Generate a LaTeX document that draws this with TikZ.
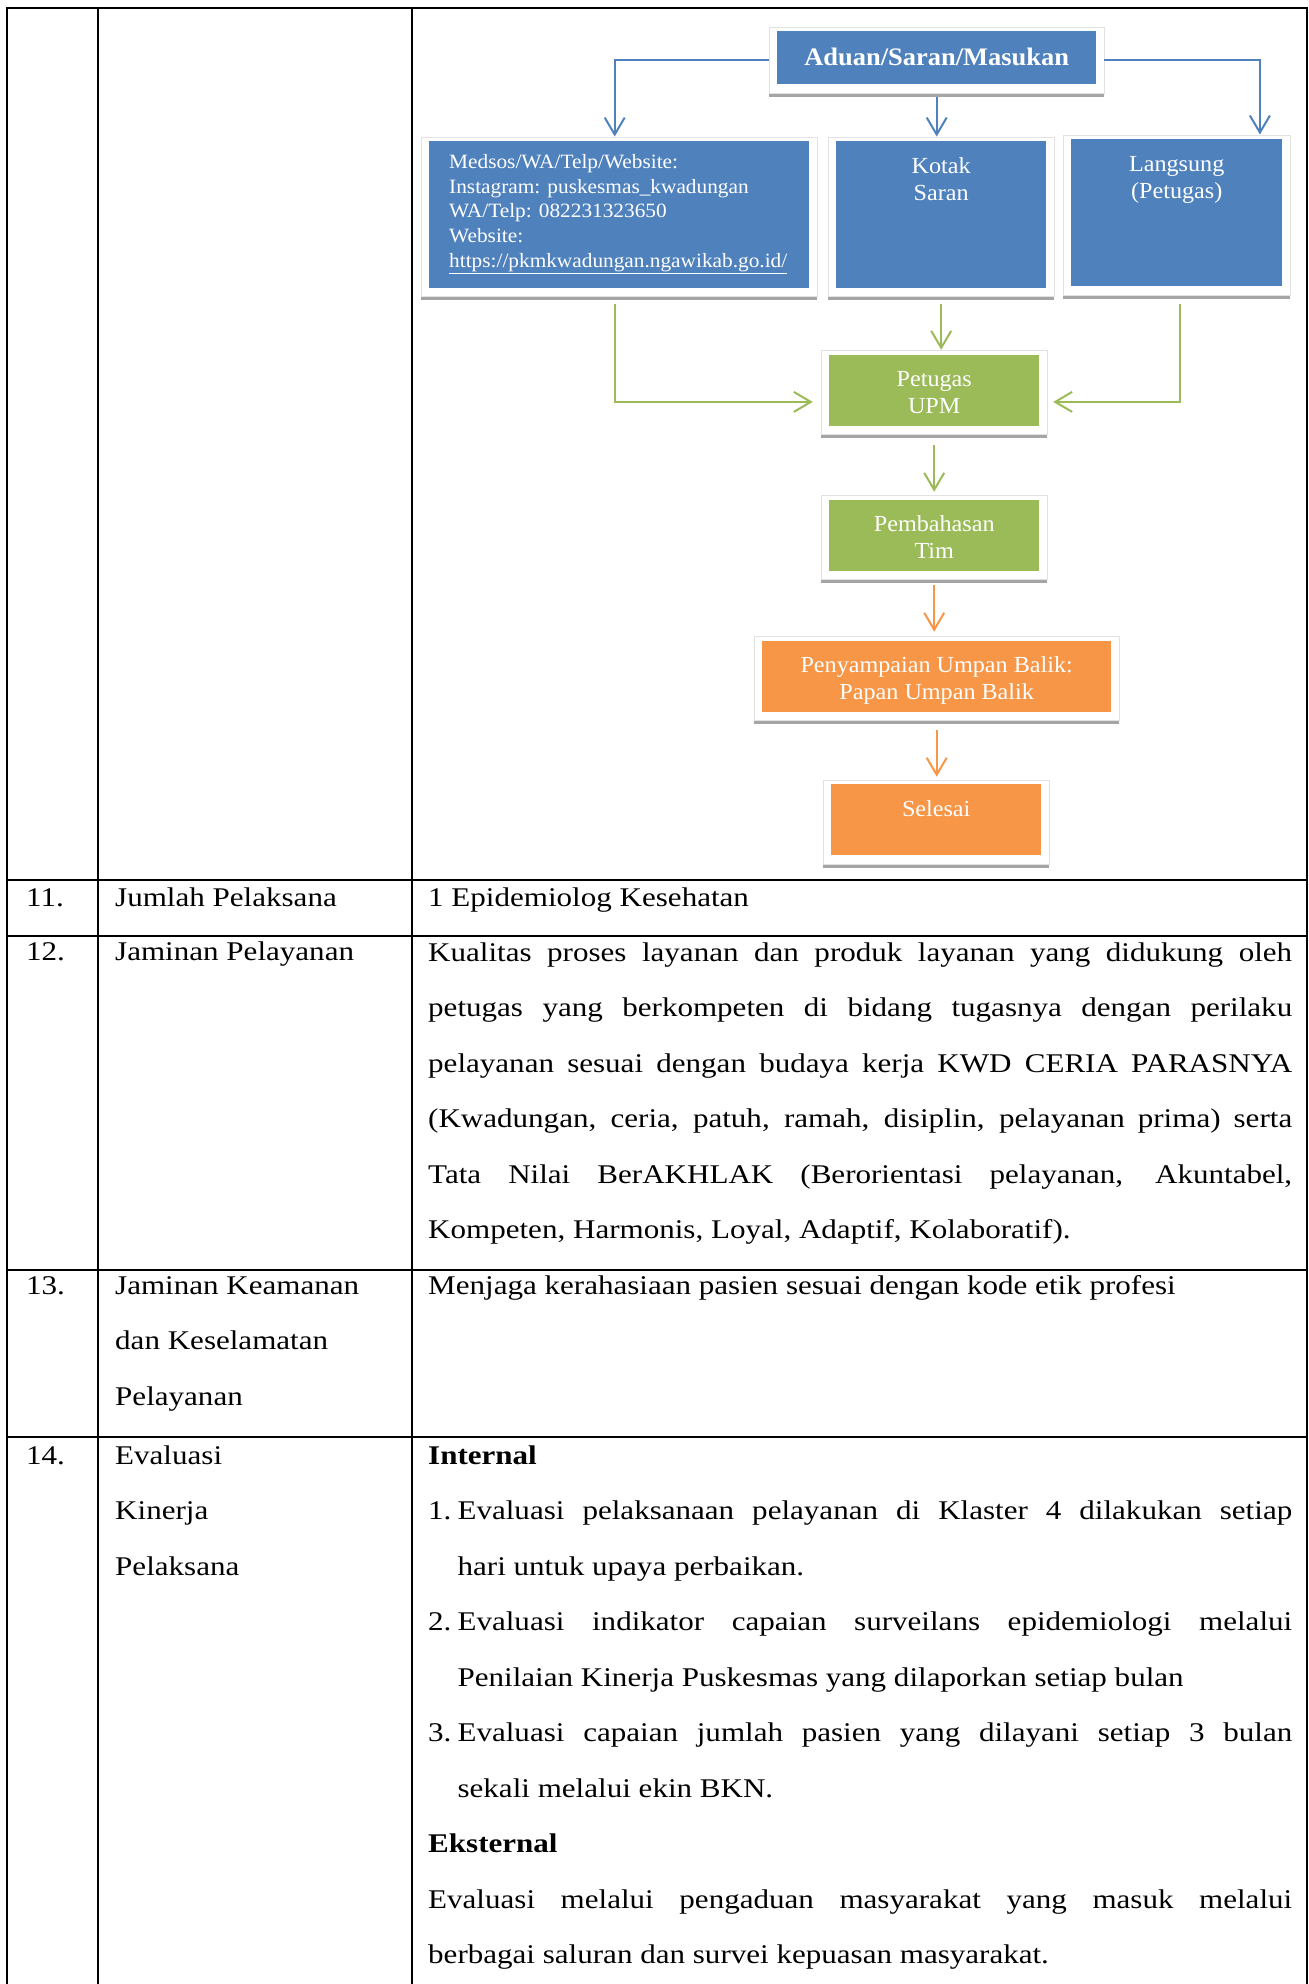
\documentclass[tikz,border=0pt]{standalone}
\usepackage{fontspec}
\usetikzlibrary{arrows.meta,shadows}

\newfontfamily\bodyfont{Liberation Serif}[FakeStretch=1.15]
\newfontfamily\boxfont{Liberation Serif}[FakeStretch=1.05]

\definecolor{boxblue}{HTML}{4F81BD}
\definecolor{boxgreen}{HTML}{9BBB59}
\definecolor{boxorange}{HTML}{F79646}
\definecolor{shadowgray}{HTML}{A5A5A5}
\definecolor{framegray}{HTML}{E2E2E2}

\newcommand{\fullline}[1]{\makebox[864pt][s]{#1}}
\newcommand{\itemline}[2]{\makebox[29.4pt][l]{#1}\makebox[834.6pt][s]{#2}}
\newcommand{\boxlabel}[3]{\parbox[c][#2][t]{#1}{\centering\rule{0pt}{36.5pt}#3}}

\begin{document}
\begin{tikzpicture}[x=1pt, y=-1pt,
    framed/.style={anchor=north west, inner sep=0pt, draw=framegray, fill=white,
      text=white, font=\boxfont\fontsize{23}{27}\selectfont,
      drop shadow={shadow xshift=0pt, shadow yshift=-4pt, opacity=1, fill=shadowgray},
      path picture={\fill[#1] ([shift={(8pt,-4.5pt)}]path picture bounding box.north west)
        rectangle ([shift={(-8pt,8.5pt)}]path picture bounding box.south east);}},
    cell/.style={anchor=base west, inner sep=0pt, font=\bodyfont\fontsize{27}{55.5}\selectfont},
    tableline/.style={line width=2pt, line cap=rect},
    flow/.style={line width=2pt, -{Straight Barb[length=17pt, width=20pt]}}]

    \useasboundingbox (0,0) rectangle (1309,1984);

    \foreach \x in {7.3, 97.7, 411.5, 1307.3}
        \draw [tableline] (\x, 8.3) -- (\x, 1984);
    \foreach \y in {8.3, 880, 936, 1270, 1437}
        \draw [tableline] (7.3, \y) -- (1307.3, \y);

    \node [framed=boxblue] (aduan) at (769, 26.5) {\parbox[c][66pt][t]{335pt}{\centering\bfseries\fontsize{25.2}{30}\selectfont\rule{0pt}{39pt}Aduan/Saran/Masukan}};
    \node [framed=boxblue] (medsos) at (421, 136.5) {\parbox[c][159.3pt][t]{396pt}{\raggedright\leftskip=28pt\fontsize{20.3}{24.6}\selectfont\rule{0pt}{32pt}Medsos/WA/Telp/Website:\\Instagram: puskesmas\_kwadungan\\WA/Telp: 082231323650\\Website:\\\underline{https://pkmkwadungan.ngawikab.go.id/}}};
    \node [framed=boxblue] (kotak) at (828, 136.5) {\boxlabel{226pt}{159.3pt}{Kotak\\Saran}};
    \node [framed=boxblue] (langsung) at (1063, 134.5) {\boxlabel{227pt}{160pt}{Langsung\\(Petugas)}};
    \node [framed=boxgreen] (upm) at (821, 349.8) {\boxlabel{226pt}{84pt}{Petugas\\UPM}};
    \node [framed=boxgreen] (tim) at (821, 494.8) {\boxlabel{226pt}{84pt}{Pembahasan\\Tim}};
    \node [framed=boxorange] (umpan) at (754, 636.2) {\boxlabel{365pt}{84pt}{Penyampaian Umpan Balik:\\Papan Umpan Balik}};
    \node [framed=boxorange] (selesai) at (823, 779.5) {\boxlabel{226pt}{84pt}{Selesai}};

    \draw [flow, boxblue] (aduan.west) -| ([xshift=-4.5pt]medsos.north);
    \draw [flow, boxblue, shorten <=4.2pt] (aduan.south) -- (aduan.south |- kotak.north);
    \draw [flow, boxblue] (aduan.east) -| ([xshift=83.2pt]langsung.north);
    \draw [flow, boxgreen, shorten <=8.2pt, shorten >=8.2pt] ([xshift=-4.5pt]medsos.south) |- ([yshift=-9.9pt]upm.west);
    \draw [flow, boxgreen, shorten <=8.2pt] (kotak.south) -- (kotak.south |- upm.north);
    \draw [flow, boxgreen, shorten <=9.5pt, shorten >=5.8pt] ([xshift=3.2pt]langsung.south) |- ([yshift=-9.9pt]upm.east);
    \draw [flow, boxgreen, shorten <=11.2pt, shorten >=3pt] (upm.south) -- (upm.south |- tim.north);
    \draw [flow, boxorange, shorten <=6.2pt, shorten >=4.5pt] (tim.south) -- (tim.south |- umpan.north);
    \draw [flow, boxorange, shorten <=9.1pt, shorten >=2.8pt] (umpan.south) -- (umpan.south |- selesai.north);

    \node [cell] (no11) at (26, 906) {11.};
    \node [cell] (lbl11) at (115, 906) {Jumlah Pelaksana};
    \node [cell] (isi11) at (428, 906) {1 Epidemiolog Kesehatan};

    \node [cell] (no12) at (26, 960) {12.};
    \node [cell] (lbl12) at (115, 960) {Jaminan Pelayanan};
    \node [cell] (isi12) at (428, 961) {\parbox[t]{864pt}{%
        \fullline{Kualitas proses layanan dan produk layanan yang didukung oleh}\\
        \fullline{petugas yang berkompeten di bidang tugasnya dengan perilaku}\\
        \fullline{pelayanan sesuai dengan budaya kerja KWD CERIA PARASNYA}\\
        \fullline{(Kwadungan, ceria, patuh, ramah, disiplin, pelayanan prima) serta}\\
        \fullline{Tata Nilai BerAKHLAK (Berorientasi pelayanan, Akuntabel,}\\
        Kompeten, Harmonis, Loyal, Adaptif, Kolaboratif).}};

    \node [cell] (no13) at (26, 1294) {13.};
    \node [cell] (lbl13) at (115, 1294) {\parbox[t]{290pt}{Jaminan Keamanan\\dan Keselamatan\\Pelayanan}};
    \node [cell] (isi13) at (428, 1294) {Menjaga kerahasiaan pasien sesuai dengan kode etik profesi};

    \node [cell] (no14) at (26, 1464) {14.};
    \node [cell] (lbl14) at (115, 1464) {\parbox[t]{290pt}{Evaluasi\\Kinerja\\Pelaksana}};
    \node [cell] (isi14) at (428, 1464) {\parbox[t]{864pt}{%
        \textbf{Internal}\\
        \itemline{1.}{Evaluasi pelaksanaan pelayanan di Klaster 4 dilakukan setiap}\\
        \hspace*{29.4pt}hari untuk upaya perbaikan.\\
        \itemline{2.}{Evaluasi indikator capaian surveilans epidemiologi melalui}\\
        \hspace*{29.4pt}Penilaian Kinerja Puskesmas yang dilaporkan setiap bulan\\
        \itemline{3.}{Evaluasi capaian jumlah pasien yang dilayani setiap 3 bulan}\\
        \hspace*{29.4pt}sekali melalui ekin BKN.\\
        \textbf{Eksternal}\\
        \fullline{Evaluasi melalui pengaduan masyarakat yang masuk melalui}\\
        berbagai saluran dan survei kepuasan masyarakat.}};

\end{tikzpicture}
\end{document}
